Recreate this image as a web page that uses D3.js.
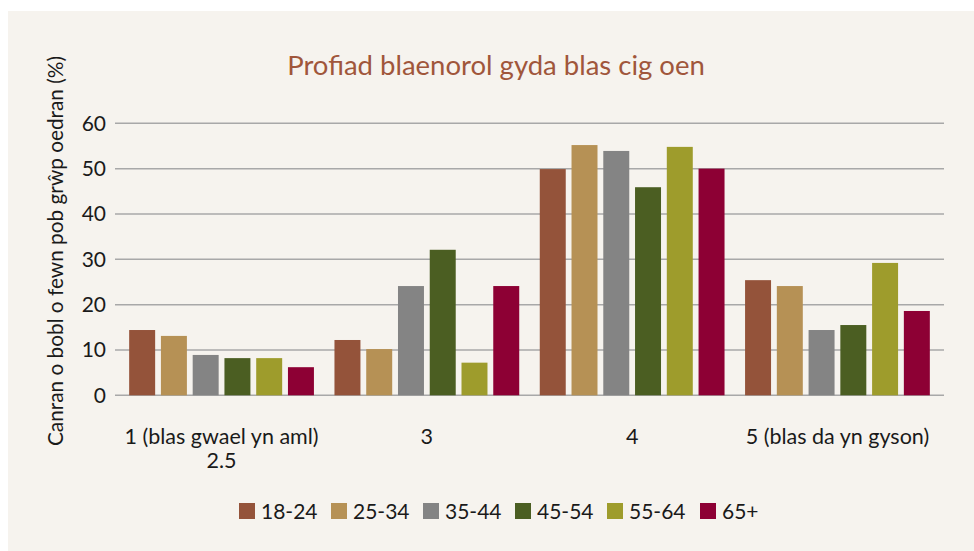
<!DOCTYPE html>
<html><head><meta charset="utf-8">
<script src="https://cdn.jsdelivr.net/npm/d3@7"></script>
<style>html,body{margin:0;padding:0;background:#fff;}svg{display:block;}</style>
</head><body>
<script>
const categories = ["1 (blas gwael yn aml)", "3", "4", "5 (blas da yn gyson)"];
const categorySubLabels = ["2.5", "", "", ""];
const seriesNames = ["18-24", "25-34", "35-44", "45-54", "55-64", "65+"];
const s18_24 = [14.4, 12.2, 49.9, 25.4];
const s25_34 = [13.1, 10.2, 55.2, 24.1];
const s35_44 = [8.9, 24.1, 53.9, 14.4];
const s45_54 = [8.2, 32.1, 45.9, 15.5];
const s55_64 = [8.2, 7.2, 54.8, 29.2];
const s65plus = [6.2, 24.1, 50.0, 18.6];
const seriesValues = [s18_24, s25_34, s35_44, s45_54, s55_64, s65plus];
const colors = ["#94533a", "#b69155", "#848484", "#4b5e22", "#9e9c2c", "#8d0034"];
const yTicks = [0, 10, 20, 30, 40, 50, 60];
const title = "Profiad blaenorol gyda blas cig oen";
const yTitle = "Canran o bobl o fewn pob grŵp oedran (%)";

(function () {
const W = 974, H = 551;
const svg = d3.select("body").append("svg").attr("width", W).attr("height", H);
svg.append("rect").attr("x", 8).attr("y", 11).attr("width", W - 8).attr("height", H - 11).attr("fill", "#f6f3ee");

const pl = 115, pr = 944, pt = 123.3, pb = 395.3;
const y = d3.scaleLinear().domain([0, 60]).range([pb, pt]);
const x0 = d3.scaleBand().domain(categories).range([pl, pr]).paddingInner(0.1).paddingOuter(0.069);
const x1 = d3.scaleBand().domain(seriesNames).range([0, x0.bandwidth()]).paddingInner(0.182).paddingOuter(0);

svg.append("g").selectAll("line").data(yTicks).join("line")
  .attr("x1", pl).attr("x2", pr)
  .attr("y1", d => y(d)).attr("y2", d => y(d))
  .attr("stroke", "#a8a8a8").attr("stroke-width", 1.5);

svg.append("g").selectAll("text").data(yTicks).join("text")
  .attr("x", 106).attr("y", d => y(d)).attr("dy", "0.35em")
  .attr("text-anchor", "end").attr("font-family", "Lato").attr("font-size", 21).attr("fill", "#1a1a1a")
  .text(d => d);

const groups = svg.append("g").selectAll("g").data(categories).join("g")
  .attr("transform", c => `translate(${x0(c)},0)`);
groups.selectAll("rect").data((c, ci) => seriesNames.map((s, si) => ({s, si, v: seriesValues[si][ci]}))).join("rect")
  .attr("x", d => x1(d.s)).attr("width", x1.bandwidth())
  .attr("y", d => y(d.v)).attr("height", d => y(0) - y(d.v))
  .attr("fill", d => colors[d.si]);

const cl = svg.append("g");
cl.selectAll("text.c").data(categories).join("text").attr("class", "c")
  .attr("x", c => x0(c) + x0.bandwidth() / 2).attr("y", 444)
  .attr("text-anchor", "middle").attr("font-family", "Lato").attr("font-size", 21.5).attr("fill", "#1a1a1a")
  .text(c => c);
cl.selectAll("text.s").data(categories).join("text").attr("class", "s")
  .attr("x", c => x0(c) + x0.bandwidth() / 2).attr("y", 468)
  .attr("text-anchor", "middle").attr("font-family", "Lato").attr("font-size", 21.5).attr("fill", "#1a1a1a")
  .text((c, i) => categorySubLabels[i]);

svg.append("text").attr("x", 496).attr("y", 75).attr("text-anchor", "middle")
  .attr("font-family", "Lato").attr("font-size", 27.5).attr("fill", "#a0563b").text(title);

svg.append("text").attr("transform", "translate(63,251) rotate(-90)").attr("text-anchor", "middle")
  .attr("font-family", "Lato").attr("font-size", 20.8).attr("fill", "#1a1a1a").text(yTitle);

const legendX = [239, 331, 423, 515, 607, 700];
const lg = svg.append("g").selectAll("g").data(seriesNames).join("g")
  .attr("transform", (d, i) => `translate(${legendX[i]},503)`);
lg.append("rect").attr("width", 16).attr("height", 16).attr("fill", (d, i) => colors[i]);
lg.append("text").attr("x", 22).attr("y", 8).attr("dy", "0.36em")
  .attr("font-family", "Lato").attr("font-size", 21).attr("fill", "#1a1a1a").text(d => d);
})();
</script>
</body></html>
